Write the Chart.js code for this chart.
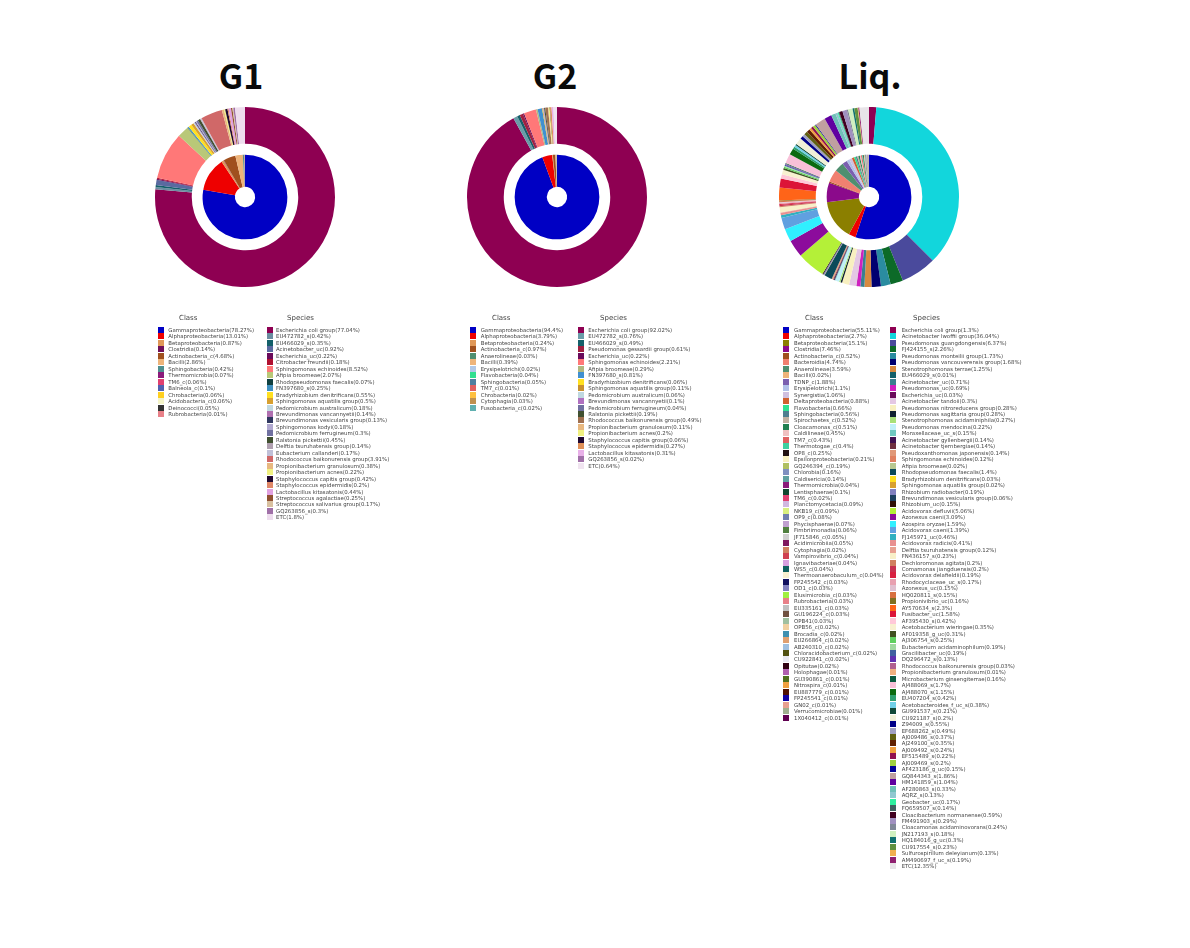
<!DOCTYPE html>
<html>
<head>
<meta charset="utf-8">
<title>G1 G2 Liq.</title>
<script src="https://cdn.jsdelivr.net/npm/chart.js@4"></script>
<style>
  html, body { margin: 0; padding: 0; background: #fff; }
  #page { position: relative; width: 1190px; height: 948px; overflow: hidden; }
  #legends { position: absolute; left: 0; top: 0; width: 1190px; height: 948px; filter: blur(0.35px); }
  .title { position: absolute; top: 48px; font: bold 34px "Noto Sans CJK KR", "Noto Sans", sans-serif; color: #0a0a0a; transform: translateX(-50%); line-height: 54px; white-space: nowrap; }
  .pie { position: absolute; top: 102px; width: 190px; height: 190px; }
  .head { position: absolute; top: 314px; font: 7px "DejaVu Sans", sans-serif; color: #444; white-space: nowrap; }
  .row { position: absolute; font: 5.4px/6px "DejaVu Sans", sans-serif; color: #444; white-space: nowrap; }
  .sw { position: absolute; width: 6px; height: 6px; }
</style>
</head>
<body>
<div id="page"><div id="legends"></div></div>
<script>
// G1
const g1ClassNames = ['Gammaproteobacteria','Alphaproteobacteria','Betaproteobacteria','Clostridia','Actinobacteria_c','Bacilli','Sphingobacteria','Thermomicrobia','TM6_c','Balneola_c','Chrobacteria','Acidobacteria_c','Deinococci','Rubrobacteria'];
const g1ClassValues = [78.27,13.01,0.87,0.14,4.68,2.86,0.42,0.07,0.06,0.1,0.06,0.06,0.05,0.01];
const g1ClassColors = ['#0000c4','#ee0000','#e09858','#70105a','#a0501e','#eeb47a','#4f8f8f','#8b1a7a','#e04070','#5060b0','#ffd020','#f4f4c8','#333333','#e88088'];

const g1SpeciesNames = ['Escherichia coli group','EU472782_s','EU466029_s','Acinetobacter_uc','Escherichia_uc','Citrobacter freundii','Sphingomonas echinoides','Afipia broomeae','Rhodopseudomonas faecalis','FN397680_s','Bradyrhizobium denitrificans','Sphingomonas aquatilis group','Pedomicrobium australicum','Brevundimonas vancannyetii','Brevundimonas vesicularis group','Sphingomonas kodyi','Pedomicrobium ferrugineum','Ralstonia pickettii','Delftia tsuruhatensis group','Eubacterium callanderi','Rhodococcus baikonurensis group','Propionibacterium granulosum','Propionibacterium acnes','Staphylococcus capitis group','Staphylococcus epidermidis','Lactobacillus kitasatonis','Streptococcus agalactiae','Streptococcus salivarius group','GQ263856_s','ETC'];
const g1SpeciesValues = [77.04,0.42,0.35,0.92,0.22,0.18,8.52,2.07,0.07,0.25,0.55,0.5,0.18,0.14,0.13,0.18,0.3,0.45,0.14,0.17,3.91,0.38,0.22,0.42,0.2,0.44,0.25,0.17,0.3,1.8];
const g1SpeciesColors = ['#8e0052','#6a8ca0','#14606a','#5a6aa0','#6a0a5a','#b01030','#ff7878','#b9c878','#104040','#4090c0','#ffe020','#d8a030','#c0d8e0','#b070b0','#303860','#b0a8d0','#7070a0','#405030','#b0a0b0','#c0c0d8','#d06868','#e8b880','#f0f080','#200830','#e08868','#e0a0e0','#905030','#d8c0a0','#a070a8','#eeddee'];

// G2
const g2ClassNames = ['Gammaproteobacteria','Alphaproteobacteria','Betaproteobacteria','Actinobacteria_c','Anaerolineae','Bacilli','Erysipelotrichi','Flavobacteria','Sphingobacteria','TM7_c','Chrobacteria','Cytophagia','Fusobacteria_c'];
const g2ClassValues = [94.4,3.79,0.24,0.97,0.03,0.39,0.02,0.04,0.05,0.01,0.02,0.03,0.02];
const g2ClassColors = ['#0000c4','#ee0000','#e09858','#a0501e','#4f8f70','#eeb47a','#b0c8e8','#30e090','#4f7fa0','#e06060','#ffc040','#c09050','#60b0b0'];

const g2SpeciesNames = ['Escherichia coli group','EU472782_s','EU466029_s','Pseudomonas gessardii group','Escherichia_uc','Sphingomonas echinoides','Afipia broomeae','FN397680_s','Bradyrhizobium denitrificans','Sphingomonas aquatilis group','Pedomicrobium australicum','Brevundimonas vancannyetii','Pedomicrobium ferrugineum','Ralstonia pickettii','Rhodococcus baikonurensis group','Propionibacterium granulosum','Propionibacterium acnes','Staphylococcus capitis group','Staphylococcus epidermidis','Lactobacillus kitasatonis','GQ263856_s','ETC'];
const g2SpeciesValues = [92.02,0.76,0.49,0.61,0.22,2.21,0.29,0.81,0.06,0.11,0.06,0.1,0.04,0.19,0.49,0.11,0.2,0.06,0.27,0.31,0.02,0.64];
const g2SpeciesColors = ['#8e0052','#6a9ca8','#14606a','#a02040','#6a0a5a','#ff7878','#b0b880','#4090d0','#ffe020','#c89030','#c0d8e0','#b070c0','#7070a0','#405030','#a07050','#e8b880','#f0f080','#200830','#e09058','#e8b0e8','#a070a8','#f0e4f0'];

// Liq.
const liqClassNames = ['Gammaproteobacteria','Alphaproteobacteria','Betaproteobacteria','Clostridia','Actinobacteria_c','Bacteroidia','Anaerolineae','Bacilli','TDNP_c','Erysipelotrichi','Synergistia','Deltaproteobacteria','Flavobacteria','Sphingobacteria','Spirochaetes_c','Cloacamonas_c','Caldilineae','TM7_c','Thermotogae_c','OP8_c','Epsilonproteobacteria','GQ246394_c','Chlorobia','Caldisericia','Thermomicrobia','Lentisphaerae','TM6_c','Planctomycetacia','NKB19_c','OP9_c','Phycisphaerae','Fimbriimonadia','JF715846_c','Acidimicrobiia','Cytophagia','Vampirovibrio_c','Ignavibacteriae','WS5_c','Thermoanaerobaculum_c','FP245542_c','OD1_c','Elusimicrobia_c','Rubrobacteria','EU335161_c','GU196224_c','OPB41','OPB56_c','Brocadia_c','EU266864_c','AB240310_c','Chloracidobacterium_c','CU922841_c','Opitutae','Holophagae','GU390861_c','Nitrospira_c','EU887779_c','FP245541_c','GN02_c','Verrucomicrobiae','1X040412_c'];
const liqClassValues = [55.11,2.7,15.1,7.46,0.52,4.74,3.59,0.02,1.88,1.1,1.06,0.88,0.66,0.56,0.52,0.51,0.45,0.43,0.4,0.25,0.21,0.19,0.16,0.14,0.04,0.1,0.02,0.09,0.09,0.08,0.07,0.06,0.05,0.05,0.02,0.04,0.04,0.04,0.04,0.03,0.03,0.03,0.03,0.03,0.03,0.03,0.02,0.02,0.02,0.02,0.02,0.02,0.02,0.01,0.01,0.01,0.01,0.01,0.01,0.01,0.01];
const liqClassColors = ['#0000c4','#ee0000','#8b7f00','#8b0a8b','#a0501e','#f08070','#4f8f70','#eeb47a','#7a5fb0','#b0c0e8','#d0c0e0','#d06030','#30e090','#4f7f8f','#c0b0a0','#208050','#f0c0c0','#e06060','#40d0a0','#201010','#f8f0c0','#b0c060','#8090c0','#60a0a0','#8b1a7a','#104830','#e04070','#d0b8e0','#d8f080','#7080b0','#c0a0d0','#508040','#d0d0d0','#801860','#d08060','#d04050','#d8a0e0','#106060','#f8f0d0','#101060','#8080c0','#a0f040','#e88088','#c0c0c0','#705040','#a0c0a0','#f0d0a0','#4090b0','#e0a070','#a0c0e0','#505010','#e8e8f0','#300010','#b060b0','#507020','#f0a040','#501000','#1000a0','#e8a090','#a0b090','#600050'];

const liqSpeciesNames = ['Escherichia coli group','Acinetobacter lwoffii group','Pseudomonas guangdongensis','FJ424155_s','Pseudomonas monteilii group','Pseudomonas vancouverensis group','Stenotrophomonas terrae','EU466029_s','Acinetobacter_uc','Pseudomonas_uc','Escherichia_uc','Acinetobacter tandoii','Pseudomonas nitroreducens group','Pseudomonas sagittaria group','Stenotrophomonas acidaminiphila','Pseudomonas mendocina','Moraxellaceae_uc_s','Acinetobacter gyllenbergii','Acinetobacter tjernbergiae','Pseudoxanthomonas japonensis','Sphingomonas echinoides','Afipia broomeae','Rhodopseudomonas faecalis','Bradyrhizobium denitrificans','Sphingomonas aquatilis group','Rhizobium radiobacter','Brevundimonas vesicularis group','Rhizobium_uc','Acidovorax defluvii','Azonexus caeni','Azospira oryzae','Acidovorax caeni','FJ145971_uc','Acidovorax radicis','Delftia tsuruhatensis group','FN436157_s','Dechloromonas agitata','Comamonas jiangduensis','Acidovorax delafieldii','Rhodocyclaceae_uc_s','Azonexus_uc','HQ020811_s','Propionivibrio_uc','AY570634_s','Fusibacter_uc','AF395430_s','Acetobacterium wieringae','AF019358_g_uc','AJ306754_s','Eubacterium acidaminophilum','Gracilibacter_uc','DQ296472_s','Rhodococcus baikonurensis group','Propionibacterium granulosum','Microbacterium ginsengiterrae','AJ488069_s','AJ488070_s','EU407204_s','Acetobacteroides_f_uc_s','GU991537_s','CU921187_s','Z94009_s','EF688262_s','AJ009486_s','AJ249100_s','AJ009492_s','EF515489_s','AJ009469_s','AF423186_g_uc','GQ844343_s','HM141859_s','AF280863_s','AQRZ_s','Geobacter_uc','FQ659507_s','Cloacibacterium normanense','FM491903_s','Cloacamonas acidaminovorans','JN217193_s','HQ184016_g_uc','CU917554_s','Sulfurospirillum deleyianum','AM490697_f_uc_s','ETC'];
// percentages as printed in the legend
const liqSpeciesValues = [1.3,36.04,6.37,2.26,1.73,1.68,1.25,0.01,0.71,0.69,0.03,0.3,0.28,0.28,0.27,0.22,0.15,0.14,0.14,0.14,0.12,0.02,1.4,0.03,0.02,0.19,0.06,0.15,5.06,3.09,1.59,1.39,0.46,0.41,0.12,0.23,0.2,0.2,0.19,0.17,0.15,0.15,0.16,2.3,1.58,0.42,0.35,0.31,0.25,0.19,0.19,0.13,0.03,0.01,0.16,1.7,1.15,0.42,0.38,0.21,0.2,0.55,0.49,0.37,0.35,0.24,0.22,0.2,0.15,1.86,1.04,0.33,0.13,0.17,0.14,0.59,0.29,0.24,0.18,0.3,0.23,0.13,0.19,12.35];
// arc sizes measured off the outer ring, which disagree with the printed numbers in places
const liqSpeciesArcs = [1.3,36.04,6.37,2.26,1.73,1.68,1.25,0.01,0.71,0.69,0.03,1.3,1.28,0.28,0.27,0.7,0.15,0.14,0.14,0.14,0.12,0.02,1.4,0.03,0.02,0.19,0.06,0.15,5.06,3.09,2.3,2.1,0.46,0.41,0.12,0.9,0.2,0.2,0.19,0.17,0.15,0.15,0.16,2.3,1.58,0.8,0.8,0.31,0.25,0.19,0.19,0.13,0.03,0.01,0.16,1.7,1.15,0.42,0.38,0.21,1.2,0.55,0.49,0.6,0.6,0.4,0.4,0.5,0.15,1.86,1.3,0.8,0.4,0.17,0.14,0.59,0.8,0.24,0.8,0.3,0.6,0.13,0.19,1.7];
const liqSpeciesColors = ['#8e0052','#12d6dc','#4a4a9c','#0c6a28','#2a8ca0','#000070','#d88a40','#14606a','#3a8090','#d020c0','#6a0a5a','#e4c8e4','#f8f0c0','#102030','#a8e078','#c0f0f8','#70c8c0','#401050','#703040','#e09878','#e08060','#b8c890','#0c4a5a','#ffe020','#d8a030','#8080c0','#1c4060','#301008','#b4f038','#8c0c9c','#30f0ff','#60a0e0','#30b0c0','#e89090','#e8a090','#f8f0c8','#d08060','#c83050','#d82040','#e8a0b0','#e0c0d0','#d87040','#807020','#ff6418','#dc1438','#ffc8d8','#f8f0d0','#405020','#60d060','#a0d8a0','#4060a0','#6030b0','#b06090','#f0b080','#0c5a40','#f8c0d8','#0c6a10','#30a070','#70d0e8','#104838','#f0f0d8','#000088','#a0a0c0','#606010','#602000','#f0a040','#901050','#a0d040','#000098','#c0a0a0','#6000a0','#70c0b8','#90c8d0','#30f0a0','#406060','#400020','#a090c0','#808898','#d0f0c0','#107070','#609040','#f0b050','#902070','#e8e4e8'];

const PITCH = 6.46;
const TOP = 327;
const page = document.getElementById('page');
const legends = document.getElementById('legends');

function addText(parent, cls, text, x, y) {
  const el = document.createElement('div');
  el.className = cls;
  el.textContent = text;
  el.style.left = x + 'px';
  if (y !== undefined) el.style.top = y + 'px';
  parent.appendChild(el);
  return el;
}

function legend(head, names, values, colors, swX, textX, headX) {
  addText(legends, 'head', head, headX);
  names.forEach((name, i) => {
    const y = TOP + i * PITCH;
    const sw = document.createElement('div');
    sw.className = 'sw';
    sw.style.left = swX + 'px';
    sw.style.top = y + 'px';
    sw.style.background = colors[i];
    legends.appendChild(sw);
    addText(legends, 'row', name + '(' + values[i] + '%)', textX, y);
  });
}

function donut(title, titleX, cx, cls, classColors, species, speciesColors, labels) {
  addText(page, 'title', title, titleX);
  const canvas = document.createElement('canvas');
  canvas.className = 'pie';
  canvas.style.left = (cx - 95) + 'px';
  canvas.width = 190;
  canvas.height = 190;
  page.appendChild(canvas);
  new Chart(canvas, {
    type: 'doughnut',
    data: {
      labels: labels,
      datasets: [
        { label: 'Species', data: species, backgroundColor: speciesColors, borderWidth: 0, weight: 36.5 },
        { label: '', data: [1], backgroundColor: 'rgba(0,0,0,0)', borderWidth: 0, weight: 10.8 },
        { label: 'Class', data: cls, backgroundColor: classColors, borderWidth: 0, weight: 32 }
      ]
    },
    options: {
      responsive: false,
      animation: false,
      radius: 90,
      cutout: 10.7,
      plugins: { legend: { display: false }, tooltip: { enabled: false } }
    }
  });
}

donut('G1', 241, 244.5, g1ClassValues, g1ClassColors, g1SpeciesValues, g1SpeciesColors, g1SpeciesNames);
donut('G2', 555, 556.7, g2ClassValues, g2ClassColors, g2SpeciesValues, g2SpeciesColors, g2SpeciesNames);
donut('Liq.', 870, 869, liqClassValues, liqClassColors, liqSpeciesArcs, liqSpeciesColors, liqSpeciesNames);

legend('Class', g1ClassNames, g1ClassValues, g1ClassColors, 158, 168.3, 179);
legend('Species', g1SpeciesNames, g1SpeciesValues, g1SpeciesColors, 267, 276, 287);
legend('Class', g2ClassNames, g2ClassValues, g2ClassColors, 470, 480.7, 492);
legend('Species', g2SpeciesNames, g2SpeciesValues, g2SpeciesColors, 578, 588.3, 600);
legend('Class', liqClassNames, liqClassValues, liqClassColors, 783, 794, 805);
legend('Species', liqSpeciesNames, liqSpeciesValues, liqSpeciesColors, 890, 901.7, 913);
</script>
</body>
</html>
